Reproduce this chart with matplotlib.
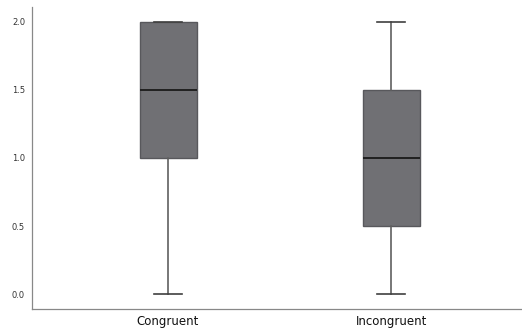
import matplotlib
matplotlib.use("Agg")
import matplotlib.pyplot as plt

# box summary values
categories = ["Congruent", "Incongruent"]
mins = [0.0, 0.0]
q1s = [1.0, 0.5]
medians = [1.5, 1.0]
q3s = [2.0, 1.5]
maxs = [2.0, 2.0]
yticks = [0.0, 0.5, 1.0, 1.5, 2.0]

stats = [
    {"label": c, "whislo": lo, "q1": a, "med": m, "q3": b, "whishi": hi, "fliers": []}
    for c, lo, a, m, b, hi in zip(categories, mins, q1s, medians, q3s, maxs)
]

fig = plt.figure(figsize=(5.22, 3.29), dpi=100)
ax = fig.add_axes([0.0613, 0.0608, 0.9387, 0.918])

ax.bxp(
    stats, positions=range(len(categories)), widths=0.256, patch_artist=True,
    boxprops=dict(facecolor="#707074", edgecolor="#58585c", linewidth=1.0),
    medianprops=dict(color="#1a1a1a", linewidth=1.3),
    whiskerprops=dict(color="#606060", linewidth=1.2),
    capprops=dict(color="#404040", linewidth=1.2),
    capwidths=0.126,
)

ax.set_xlim(-0.61, 1.587)
ax.set_ylim(-0.11, 2.11)
ax.set_yticks(yticks)
ax.set_yticklabels([f"{v:.1f}" for v in yticks], fontsize=6, color="#333333")
ax.set_xticks(range(len(categories)))
ax.set_xticklabels(categories, fontsize=8.5, color="#111111")
ax.tick_params(axis="both", length=0)
ax.tick_params(axis="y", pad=5)
ax.tick_params(axis="x", pad=4)
for s in ("top", "right"):
    ax.spines[s].set_visible(False)
for s in ("left", "bottom"):
    ax.spines[s].set_color("#888888")
    ax.spines[s].set_linewidth(0.9)

fig.savefig("out.png", dpi=100)
